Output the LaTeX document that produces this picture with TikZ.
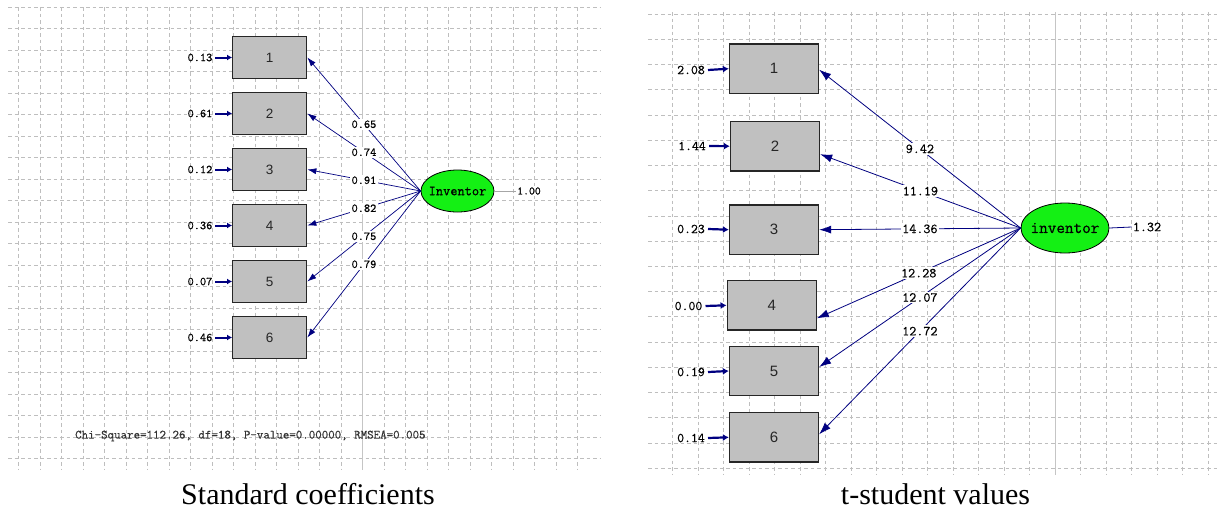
\documentclass[tikz,border=0pt]{standalone}
\usepackage{fontspec}
\setmainfont{Liberation Serif}
\newfontfamily\lismono[FakeBold=0.6]{Latin Modern Mono}
\newfontfamily\lissans{Liberation Sans}
\usepackage{xcolor}
\usepackage{tikz}
\usetikzlibrary{shapes.geometric,arrows.meta,calc}
\definecolor{lisnavy}{RGB}{0,0,128}
\definecolor{lisgray}{RGB}{192,192,192}
\definecolor{lisgreen}{RGB}{20,240,20}
\definecolor{gridgray}{RGB}{190,190,190}

\begin{document}
\begin{tikzpicture}[x=1pt, y=-1pt,
	gridline/.style={draw=gridgray, line width=0.8pt, dash pattern=on 3.5pt off 3pt},
	axisline/.style={draw=gridgray!90, line width=1.4pt},
	obs/.style={draw=black!85, fill=lisgray, line width=1.3pt, inner sep=0pt, text=black!85},
	obsA/.style={obs, minimum width=74pt, minimum height=42pt, font=\lissans\fontsize{13.5}{15}\selectfont},
	obsB/.style={obs, minimum width=89pt, minimum height=49.5pt, font=\lissans\fontsize{15}{17}\selectfont},
	lat/.style={ellipse, draw=black, fill=lisgreen, line width=0.8pt, inner sep=0pt},
	estA/.style={font=\lismono\fontsize{12}{14}\selectfont, fill=white, inner sep=1.5pt},
	estB/.style={font=\lismono\fontsize{13.7}{16}\selectfont, fill=white, inner sep=1.5pt},
	errA/.style={font=\lismono\fontsize{12}{14}\selectfont, inner sep=2.5pt},
	errB/.style={font=\lismono\fontsize{13.4}{16}\selectfont, inner sep=3pt},
	loadA/.style={draw=lisnavy, line width=0.7pt, -{Latex[length=9pt,width=6pt]}},
	loadB/.style={draw=lisnavy, line width=0.8pt, -{Latex[length=12pt,width=8pt]}},
	errarrA/.style={draw=lisnavy, line width=2pt, -{Latex[length=5pt,width=6pt]}},
	errarrB/.style={draw=lisnavy, line width=2.2pt, -{Latex[length=6pt,width=7pt]}}]

	\fill[white] (0,0) rectangle (1218,512);
	\useasboundingbox (0,0) rectangle (1218,512);

	\foreach \k in {0,...,21} \draw[gridline] (8,{7.3+21.5*\k}) -- (600,{7.3+21.5*\k});
	\foreach \k in {0,...,26} \draw[gridline] ({18.4+21.5*\k},7) -- ({18.4+21.5*\k},470);
	\draw[axisline] (362.4,7) -- (362.4,470);

	\foreach \k in {0,...,18} \draw[gridline] (648,{14.1+25.23*\k}) -- (1218,{14.1+25.23*\k});
	\foreach \k in {0,...,21} \draw[gridline] ({672.7+25.5*\k},12) -- ({672.7+25.5*\k},475);
	\draw[axisline] (1055.2,12) -- (1055.2,475);

	\node[lat, minimum width=73pt, minimum height=42pt, font=\lismono\fontsize{14}{16}\selectfont] (invA) at (457.5,191) {\makebox[0pt]{Inventor}};
	\foreach \i/\v/\l in {1/0.13/0.65, 2/0.61/0.74, 3/0.12/0.91, 4/0.36/0.82, 5/0.07/0.75, 6/0.46/0.79}{
		\node[obsA] (a\i) at (269.7,{57.5+56*(\i-1)}) {\i};
		\node[errA] (ea\i) at (200,{57.5+56*(\i-1)}) {\v};
		\draw[errarrA] (ea\i.east) -- (a\i.west);
		\draw[loadA] (invA.west) -- node[estA] {\l} (a\i.east);
	}
	\node[font=\lismono\fontsize{11.4}{13}\selectfont, inner sep=1pt] (vA) at (529,191) {1.00};
	\draw[gray!70, line width=0.6pt] (invA.east) -- (vA.west);
	\node[font=\lismono\fontsize{12.6}{14}\selectfont, inner sep=0pt, anchor=west, text=black!80] (fitA) at (75,436) {Chi-Square=112.26, df=18, P-value=0.00000, RMSEA=0.005};

	\node[lat, minimum width=88pt, minimum height=50pt, font=\lismono\fontsize{16.7}{18}\selectfont] (invB) at (1065,228) {\makebox[0pt]{inventor}};
	\node[obsB] (b1) at (774,68.7) {1};
	\node[obsB] (b2) at (775,146.2) {2};
	\node[obsB] (b3) at (774,229.7) {3};
	\node[obsB] (b4) at (771.7,305.3) {4};
	\node[obsB] (b5) at (774,371) {5};
	\node[obsB] (b6) at (774,437.3) {6};
	\node[errB] (eb1) at (691,70) {2.08};
	\node[errB] (eb2) at (692,146) {1.44};
	\node[errB] (eb3) at (691,229) {0.23};
	\node[errB] (eb4) at (688.5,306) {0.00};
	\node[errB] (eb5) at (691,372) {0.19};
	\node[errB] (eb6) at (691,438) {0.14};
	\foreach \i in {1,...,6} \draw[errarrB] (eb\i.east) -- (b\i.west);
	\draw[loadB] (invB.west) -- node[estB] {9.42} ($(b1.east)+(0,1)$);
	\draw[loadB] (invB.west) -- node[estB] {11.19} ($(b2.east)+(0,8)$);
	\draw[loadB] (invB.west) -- node[estB] {14.36} (b3.east);
	\draw[loadB] (invB.west) -- node[estB] {12.28} ($(b4.east)+(0,13)$);
	\draw[loadB] (invB.west) -- node[estB] {12.07} ($(b5.east)+(0,-4)$);
	\draw[loadB] (invB.west) -- node[estB] {12.72} ($(b6.east)+(0,-3)$);
	\node[font=\lismono\fontsize{13.7}{16}\selectfont, inner sep=1pt] (vB) at (1147,227) {1.32};
	\draw[lisnavy, line width=0.8pt] (invB.east) -- (vB.west);

	\node[font=\fontsize{30}{32}\selectfont, anchor=base, inner sep=0pt] (capA) at (308,504) {Standard coefficients};
	\node[font=\fontsize{30}{32}\selectfont, anchor=base, inner sep=0pt] (capB) at (935.5,504) {t-student values};
\end{tikzpicture}
\end{document}
